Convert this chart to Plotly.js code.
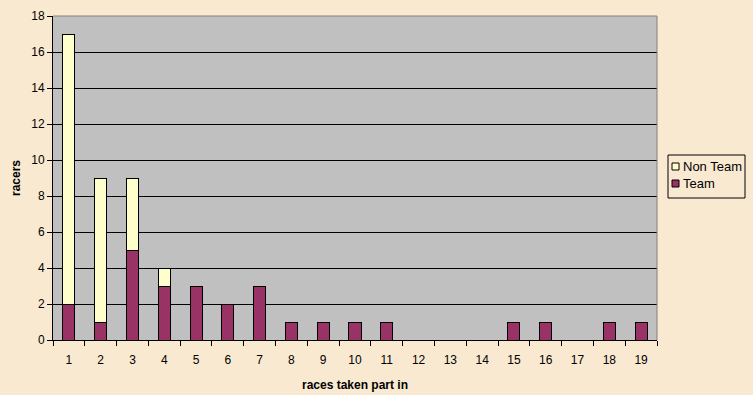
<!DOCTYPE html>
<html>
<head>
<meta charset="utf-8">
<script src="https://cdn.plot.ly/plotly-3.0.1.min.js"></script>
<style>html,body{margin:0;padding:0;background:#F9E9D1;}</style>
</head>
<body>
<div id="chart" style="width:753px;height:395px;"></div>
<script>
const categories = ["1","2","3","4","5","6","7","8","9","10","11","12","13","14","15","16","17","18","19"];
const teamValues = [2,1,5,3,3,2,3,1,1,1,1,0,0,0,1,1,0,1,1];
const nonTeamValues = [15,8,4,1,0,0,0,0,0,0,0,0,0,0,0,0,0,0,0];
const yTicks = [0,2,4,6,8,10,12,14,16,18];
const seriesNames = ["Team", "Non Team"];
const seriesColors = ["#993366", "#FFFFCC"];

const font = {family: "Liberation Sans, Arial, sans-serif", size: 12, color: "#000"};

const traces = [
  {type: "bar", name: seriesNames[0], x: categories, y: teamValues, showlegend: false,
   marker: {color: seriesColors[0], line: {color: "#000", width: 1}}},
  {type: "bar", name: seriesNames[1], x: categories, y: nonTeamValues, showlegend: false,
   marker: {color: seriesColors[1], line: {color: "#000", width: 1}}}
];

// plot area: left 53px, width 604px, top 16px, height 324px
const PL = 53, PW = 604, PB = 340, PH = 324;
const px = v => (v - PL) / PW;
const py = v => (PB - v) / PH;

const shapes = [
  {type: "line", xref: "paper", yref: "paper", x0: 0, x1: 1, y0: 1, y1: 1,
   line: {color: "#808080", width: 1}},
  {type: "line", xref: "paper", yref: "paper", x0: 1, x1: 1, y0: 0, y1: 1,
   line: {color: "#808080", width: 1}},
  // legend box
  {type: "rect", xref: "paper", yref: "paper", x0: px(668), x1: px(745), y0: py(198), y1: py(155),
   line: {color: "#000", width: 1}, fillcolor: "rgba(0,0,0,0)"}
];
const annotations = [];
// legend entries: Non Team first, then Team
const legendOrder = [1, 0];
legendOrder.forEach((si, i) => {
  const top = 163 + i * 17;
  shapes.push({type: "rect", xref: "paper", yref: "paper",
    x0: px(672), x1: px(679), y0: py(top + 7), y1: py(top),
    line: {color: "#000", width: 1}, fillcolor: seriesColors[si]});
  annotations.push({xref: "paper", yref: "paper", x: px(681), y: py(top + 3.5),
    xanchor: "left", yanchor: "middle", showarrow: false, text: seriesNames[si],
    font: {family: font.family, size: 13, color: "#000"}});
});

const layout = {
  width: 753, height: 395,
  margin: {l: 53, r: 96, t: 16, b: 55, autoexpand: false},
  paper_bgcolor: "#F9E9D1",
  plot_bgcolor: "#C0C0C0",
  barmode: "stack",
  bargap: 0.62,
  font: font,
  showlegend: false,
  xaxis: {type: "category", categoryorder: "array", categoryarray: categories,
          tickson: "boundaries", ticks: "outside", ticklen: 5, tickcolor: "#000",
          ticklabelstandoff: 9,
          showgrid: false, showline: true, linecolor: "#000", linewidth: 1,
          zeroline: false, tickfont: {size: 12},
          title: {text: "races taken part in", font: {size: 12, weight: "bold"}, standoff: 14}},
  yaxis: {range: [0, 18], tickvals: yTicks, ticks: "outside", ticklen: 5, tickcolor: "#000",
          showgrid: true, gridcolor: "#000", gridwidth: 1,
          showline: true, linecolor: "#000", linewidth: 1, zeroline: false,
          tickfont: {size: 12},
          title: {text: "racers", font: {size: 12, weight: "bold"}, standoff: 8}},
  shapes: shapes,
  annotations: annotations
};

Plotly.newPlot("chart", traces, layout, {displayModeBar: false, staticPlot: true});
</script>
</body>
</html>
